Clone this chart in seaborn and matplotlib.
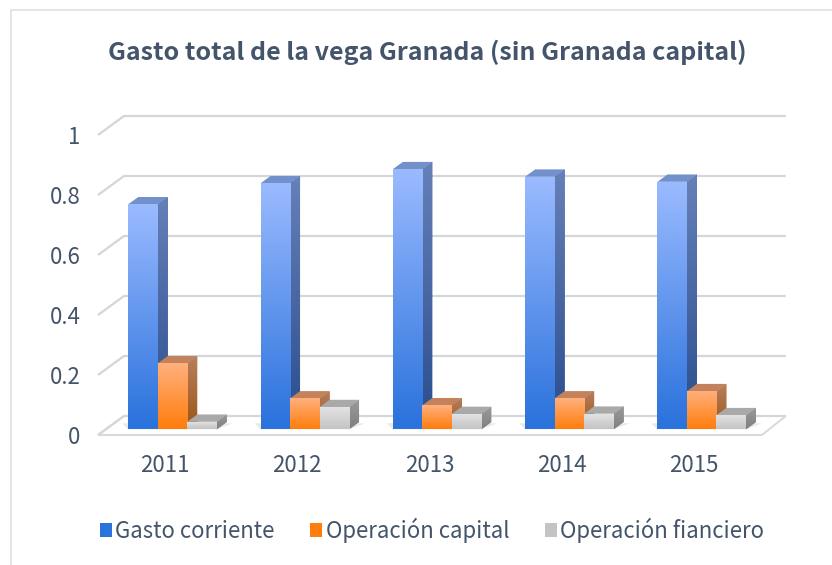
import numpy as np
import pandas as pd
import matplotlib.pyplot as plt
import seaborn as sns
from matplotlib.colors import LinearSegmentedColormap
from matplotlib.patches import Polygon, Patch
from matplotlib.transforms import ScaledTranslation

# datos
years = ['2011', '2012', '2013', '2014', '2015']
series = ['Gasto corriente', 'Operación capital', 'Operación fianciero']
gasto_corriente = [0.75, 0.82, 0.867, 0.842, 0.825]
op_capital = [0.22, 0.103, 0.08, 0.103, 0.127]
op_financiero = [0.025, 0.074, 0.051, 0.052, 0.047]
y_ticks = [0, 0.2, 0.4, 0.6, 0.8, 1]
y_labels = ['0', '0.2', '0.4', '0.6', '0.8', '1']

df = pd.DataFrame({
    'year': years * 3,
    'serie': [series[0]] * 5 + [series[1]] * 5 + [series[2]] * 5,
    'valor': gasto_corriente + op_capital + op_financiero,
})

# colores (front top, front bottom, side top, side bottom, top face)
styles = {
    series[0]: ('#9abaff', '#2a72dc', '#6680b8', '#2a4d8e', '#7190cc'),
    series[1]: ('#ffb07e', '#ff7d0c', '#b8805e', '#9c5416', '#c4825c'),
    series[2]: ('#e4e4e4', '#c4c4c4', '#9a9a9a', '#808080', '#a9a9a9'),
}
text_col = '#44546a'
grid_col = '#d4d6da'

sns.set_style('white')
plt.rcParams['font.family'] = ['Noto Sans CJK SC', 'DejaVu Sans']

W, H = 832, 565
fig = plt.figure(figsize=(W / 100, H / 100), dpi=100)
ax = fig.add_axes([106.35 / W, 135.7 / H, 661.5 / W, 300 / H])

sns.barplot(data=df, x='year', y='valor', hue='serie', hue_order=series,
            palette=[styles[s][1] for s in series], width=0.669,
            saturation=1, legend=False, ax=ax, zorder=2)
bar_patches = list(ax.patches)
ax.set_xlim(-0.5, 4.5)
ax.set_ylim(0, 1)
for sp in ax.spines.values():
    sp.set_visible(False)

# pixel -> data units
sx = 5 / 661.5
sy = 1 / 300


def off(x, y, dxp, dyp):
    return (x + dxp * sx, y + dyp * sy)


# border of chart area
fig.add_artist(plt.Line2D([11 / W, 11 / W], [0, 1 - 10 / H], color='#dde1e6', lw=1.2))
fig.add_artist(plt.Line2D([11 / W, 1], [1 - 10 / H, 1 - 10 / H], color='#dde1e6', lw=1.2))

# floor
floor = Polygon([off(-0.5, 0, -8.35, -5.7), off(4.5, 0, -6, -5.7),
                 off(4.5, 0, 18, 13.3), off(-0.5, 0, 17.65, 13.3)],
                closed=True, facecolor='white', edgecolor=grid_col, lw=1.3,
                clip_on=False, zorder=0.5)
ax.add_patch(floor)

# back wall gridlines + side wall
for v in y_ticks:
    p0 = off(-0.5, v, -8.35, -5.7)
    p1 = off(-0.5, v, 17.65, 13.3)
    p2 = off(4.5, v, 18, 13.3)
    ax.plot([p0[0], p1[0], p2[0]], [p0[1], p1[1], p2[1]], color=grid_col,
            lw=1.6, clip_on=False, zorder=0.6, solid_capstyle='butt')

# soft shadow under each group
for i in range(len(years)):
    sh = Polygon([off(i - 0.335, 0, 0, 0), off(i + 0.335, 0, 0, 0),
                  off(i + 0.335, 0, 16, 6), off(i - 0.335, 0, -6, 6)],
                 closed=True, facecolor='#e9e9e9', edgecolor='none',
                 clip_on=False, zorder=0.7)
    ax.add_patch(sh)

# 3D faces for each bar
dxp, dyp = 10, 7.3
bar_series = {}
for k, s in enumerate(series):
    for p in bar_patches[k * 5:(k + 1) * 5]:
        bar_series[id(p)] = s
bars = sorted(bar_patches, key=lambda p: p.get_x())

for n, p in enumerate(bars):
    s = bar_series[id(p)]
    ftop, fbot, stop, sbot, tcol = styles[s]
    x0 = p.get_x()
    x1 = x0 + p.get_width()
    h = p.get_height()
    z = 2 + n * 0.01
    p.set_zorder(z)
    p.set_edgecolor('none')
    # front gradient
    cm = LinearSegmentedColormap.from_list('f', [fbot, ftop])
    grad = np.linspace(0, 1, 64).reshape(-1, 1)
    im = ax.imshow(grad, extent=[x0, x1, 0, h], origin='lower', aspect='auto',
                   cmap=cm, zorder=z + 0.001, interpolation='bilinear')
    im.set_clip_path(p)
    # side
    side = Polygon([(x1, 0), off(x1, 0, dxp, dyp), off(x1, h, dxp, dyp), (x1, h)],
                   closed=True, facecolor=sbot, edgecolor='none', clip_on=False, zorder=z - 0.002)
    ax.add_patch(side)
    cm2 = LinearSegmentedColormap.from_list('s', [sbot, stop])
    xa, ya = off(x1, h, dxp, dyp)
    im2 = ax.imshow(grad, extent=[x1, xa, 0, ya], origin='lower', aspect='auto',
                    cmap=cm2, zorder=z - 0.001, interpolation='bilinear')
    im2.set_clip_path(side)
    # top
    top = Polygon([(x0, h), (x1, h), off(x1, h, dxp, dyp), off(x0, h, dxp, dyp)],
                  closed=True, facecolor=tcol, edgecolor='none', clip_on=False, zorder=z - 0.001)
    ax.add_patch(top)

ax.set_xlim(-0.5, 4.5)
ax.set_ylim(0, 1)

# ticks
ax.set_yticks(y_ticks)
ax.set_yticklabels(y_labels)
ax.set_xlabel('')
ax.set_ylabel('')
ax.tick_params(axis='y', length=0, pad=18.5, labelsize=16, labelcolor=text_col)
ax.tick_params(axis='x', length=0, pad=18, labelsize=16, labelcolor=text_col)
for lab in ax.get_yticklabels():
    lab.set_transform(lab.get_transform() + ScaledTranslation(0, -5.7 / 100, fig.dpi_scale_trans))
for lab in ax.get_xticklabels():
    lab.set_transform(lab.get_transform() + ScaledTranslation(-7.5 / 100, 0, fig.dpi_scale_trans))

fig.text(427 / W, 1 - 52 / H, 'Gasto total de la vega Granada (sin Granada capital)',
         ha='center', va='center', fontsize=18, fontweight='bold', color=text_col)

handles = [Patch(facecolor=styles[s][1], edgecolor='none') for s in series]
leg = fig.legend(handles, series, loc='center', bbox_to_anchor=(432 / W, 35 / H), ncol=3,
                 frameon=False, fontsize=16, handlelength=0.55, handleheight=0.55,
                 handletextpad=0.15, columnspacing=1.6)
for t in leg.get_texts():
    t.set_color(text_col)

fig.savefig('out.png', dpi=100)
